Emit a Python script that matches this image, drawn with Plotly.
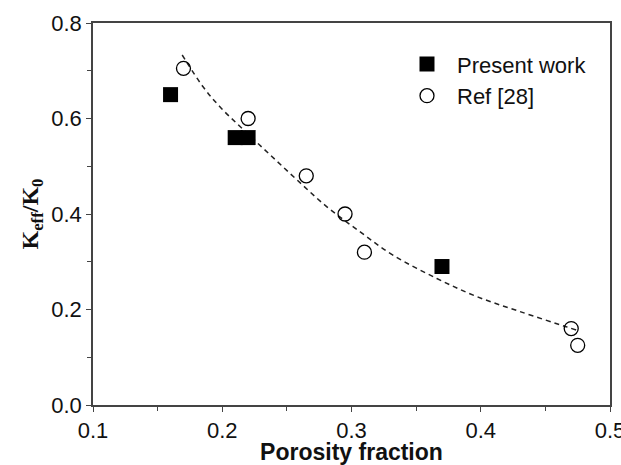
import plotly.graph_objects as go

# Present work (filled squares)
present_x = [0.16, 0.21, 0.22, 0.37]
present_y = [0.65, 0.56, 0.56, 0.29]

# Ref [28] (open circles)
ref_x = [0.17, 0.22, 0.265, 0.295, 0.31, 0.47, 0.475]
ref_y = [0.705, 0.60, 0.48, 0.40, 0.32, 0.16, 0.125]

# Dashed fit curve
fit_x = [0.169, 0.185, 0.198, 0.215, 0.237, 0.258, 0.281, 0.307, 0.332, 0.366, 0.397, 0.430, 0.466, 0.474]
fit_y = [0.733, 0.667, 0.625, 0.580, 0.524, 0.471, 0.415, 0.362, 0.314, 0.265, 0.227, 0.196, 0.164, 0.157]

x_ticks = [0.1, 0.2, 0.3, 0.4, 0.5]
y_ticks = [0.0, 0.2, 0.4, 0.6, 0.8]

fig = go.Figure()
fig.add_trace(go.Scatter(x=fit_x, y=fit_y, mode="lines", line_shape="spline",
                         line=dict(color="#222", width=1.5, dash="5px,4px"),
                         showlegend=False, hoverinfo="skip"))
fig.add_trace(go.Scatter(x=present_x, y=present_y, mode="markers", name="Present work",
                         legendgroup="a",
                         marker=dict(symbol="square", size=15, color="black",
                                     line=dict(width=0))))
fig.add_trace(go.Scatter(x=ref_x, y=ref_y, mode="markers", name="Ref [28]",
                         legendgroup="b",
                         marker=dict(symbol="circle-open", size=14, color="black",
                                     line=dict(width=1.3, color="black"))))

axis_common = dict(showline=True, linecolor="#444", linewidth=1.5, mirror=True,
                   ticks="outside", ticklen=5, tickwidth=1.2, tickcolor="#444",
                   showgrid=False, zeroline=False, tickformat=".1f",
                   ticklabeloverflow="allow", automargin=False,
                   tickfont=dict(family="Liberation Sans, Arial", size=22, color="#111"))

fig.update_xaxes(range=[0.1, 0.5], tickvals=x_ticks,
                 minor=dict(ticks="outside", ticklen=4, dtick=0.05, tick0=0.1,
                            tickcolor="#444", tickwidth=1.2),
                 title=dict(text="<b>Porosity fraction</b>", standoff=6,
                            font=dict(family="Liberation Sans, Arial", size=23, color="#111")),
                 **axis_common)
fig.update_yaxes(range=[0.0, 0.8], tickvals=y_ticks,
                 minor=dict(ticks="outside", ticklen=4, dtick=0.1, tick0=0,
                            tickcolor="#444", tickwidth=1.2),
                 title=dict(text="<b>K<sub>eff</sub>/K<sub>0</sub></b>", standoff=6,
                            font=dict(family="Liberation Serif, Times New Roman", size=24, color="#111")),
                 **axis_common)

fig.update_layout(
    width=621, height=465,
    margin=dict(l=93, r=11, t=23, b=60),
    paper_bgcolor="white", plot_bgcolor="white",
    legend=dict(x=0.588, y=0.947, xanchor="left", yanchor="top",
                bgcolor="rgba(0,0,0,0)", traceorder="grouped", tracegroupgap=0,
                itemwidth=50,
                font=dict(family="Liberation Sans, Arial", size=22, color="#111")),
)

fig.write_html("out.html")
